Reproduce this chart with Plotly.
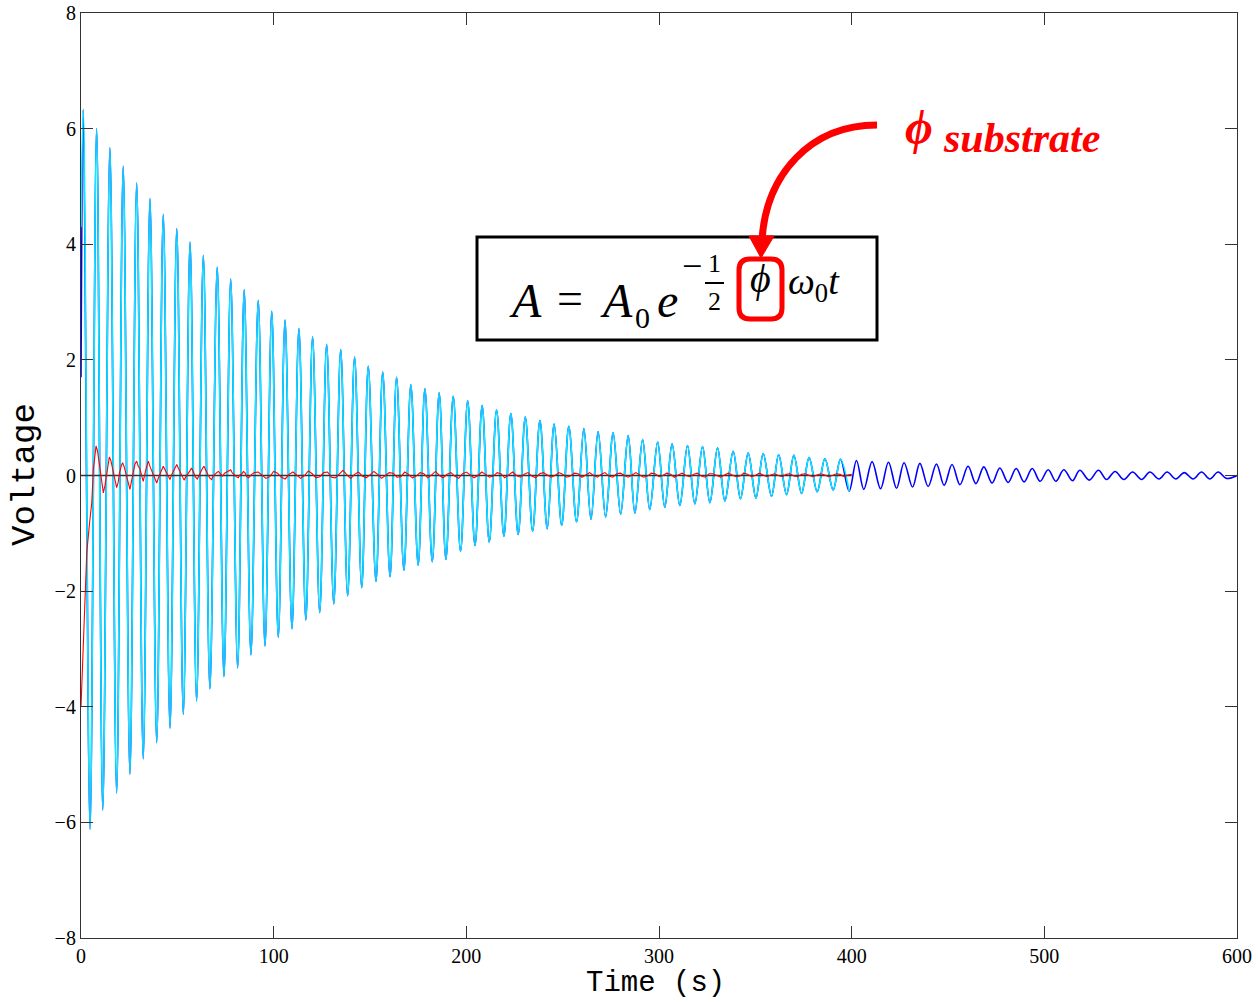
import plotly.graph_objects as go

# ---- data (extremes of the oscillation) ----
peak_t = [1.2, 8.1, 15.0, 21.9, 28.9, 35.8, 42.7, 49.7, 56.6, 63.5, 70.7, 77.7, 84.7, 92.0,
          99.0, 105.9, 113.1, 120.2, 127.5, 134.8, 142.0, 149.1, 156.6, 163.8, 171.2, 178.5, 185.9,
          193.2, 200.7, 208.2, 215.7, 223.1, 230.6, 238.2, 245.6, 253.2, 261.0, 268.4, 276.2,
          284.0, 291.5, 299.3, 306.8, 314.8, 322.6, 330.4, 338.5, 346.3, 354.1, 362.1, 370.0,
          377.9, 386.1, 394.2, 402.5, 410.6, 419.1, 427.2, 435.4, 444.0, 452.1, 460.4, 468.6,
          476.9, 485.4, 493.7, 502.0, 510.1, 518.4, 528.1, 536.7, 545.8, 554.8, 563.7, 572.6,
          581.6, 590.2]
peak_v = [6.33, 6.00, 5.67, 5.35, 5.06, 4.79, 4.52, 4.27, 4.04, 3.81, 3.60, 3.40, 3.21, 3.03,
          2.84, 2.69, 2.54, 2.40, 2.27, 2.18, 2.05, 1.89, 1.79, 1.70, 1.57, 1.50, 1.43,
          1.37, 1.29, 1.21, 1.13, 1.07, 1.01, 0.95, 0.89, 0.85, 0.81, 0.76, 0.74,
          0.69, 0.62, 0.58, 0.55, 0.52, 0.50, 0.48, 0.42, 0.39, 0.38, 0.36, 0.35,
          0.31, 0.29, 0.28, 0.26, 0.24, 0.23, 0.22, 0.21, 0.20, 0.19, 0.16, 0.15,
          0.13, 0.12, 0.12, 0.10, 0.10, 0.09, 0.09, 0.07, 0.06, 0.06, 0.06, 0.05,
          0.06, 0.06]
trough_t = [4.7, 11.3, 18.5, 25.4, 32.3, 39.3, 46.2, 53.1, 60.0, 66.9, 74.2, 81.3, 88.2,
            95.5, 102.4, 109.5, 116.7, 123.9, 131.2, 138.4, 145.7, 153.1, 160.4, 167.6, 175.0,
            182.3, 189.4, 197.0, 204.5, 211.9, 219.5, 226.9, 234.4, 242.0, 249.5, 257.2, 264.7,
            272.3, 280.1, 287.5, 295.2, 303.0, 310.8, 318.6, 326.4, 334.2, 342.3, 350.3, 358.4,
            366.2, 374.0, 382.1, 390.4, 398.7, 406.3, 415.0, 423.3, 431.6, 439.7, 448.0, 456.2,
            464.5, 472.9, 481.2, 489.5, 497.8, 506.0, 514.6, 523.3, 532.3, 541.3, 550.5, 559.5,
            568.3, 577.2, 585.9, 594.5]
trough_v = [-6.12, -5.79, -5.49, -5.17, -4.90, -4.62, -4.37, -4.13, -3.90, -3.69, -3.48, -3.33, -3.10,
            -2.95, -2.80, -2.65, -2.50, -2.37, -2.22, -2.08, -1.94, -1.83, -1.75, -1.64, -1.55,
            -1.49, -1.45, -1.31, -1.21, -1.15, -1.05, -1.02, -0.96, -0.92, -0.86, -0.80, -0.76,
            -0.72, -0.67, -0.65, -0.59, -0.55, -0.52, -0.49, -0.47, -0.44, -0.40, -0.39, -0.36,
            -0.33, -0.31, -0.28, -0.25, -0.27, -0.24, -0.23, -0.22, -0.20, -0.19, -0.17, -0.16,
            -0.14, -0.13, -0.12, -0.11, -0.10, -0.10, -0.09, -0.08, -0.07, -0.07, -0.07, -0.06,
            -0.06, -0.06, -0.06, -0.05]
blue_start = (0.0, 1.7)
blue_end = (600.0, 0.0)
cyan_start = (0.0, 4.3)
cyan_stop_t = 400.0

# red residual: early transient part
red_t_early = [0.0, 1.2, 3.0, 4.5, 5.6, 6.4, 7.2, 7.8, 8.6, 9.5, 10.5, 11.6, 12.4, 13.0, 14.0, 14.7,
               15.5, 16.5, 17.5, 18.5, 19.3, 20.0, 21.0, 21.6, 22.5, 23.5, 24.5, 25.4, 26.2, 27.0,
               28.0, 28.9, 29.7, 30.5, 31.5, 32.3, 33.5, 34.9, 36.0, 37.0, 38.2, 39.3, 40.2,
               41.0, 42.0, 42.7, 43.6, 44.5, 45.4, 46.2, 47.0, 48.0, 49.0, 49.7, 50.6, 51.5,
               52.5, 53.5, 54.5, 55.5, 56.5, 57.4, 58.5, 59.5, 60.4, 61.2, 62.0, 63.0, 63.8,
               64.8, 65.8, 66.8, 67.8, 68.6, 69.5, 70.4, 71.3, 72.5, 73.5, 74.5, 75.5, 76.6,
               77.7, 78.6, 79.5, 80.5, 81.6, 82.5, 83.5, 84.3, 85.1, 86.0, 87.0, 88.6, 90.0]
red_v_early = [-4.00, -2.95, -1.33, -0.80, -0.47, 0.10, 0.38, 0.51, 0.42, 0.20, -0.05, -0.30, -0.18,
               -0.05, 0.22, 0.32, 0.26, 0.10, -0.08, -0.21, -0.12, 0.05, 0.18, 0.22, 0.14, 0.00,
               -0.15, -0.24, -0.10, 0.05, 0.20, 0.25, 0.16, 0.12, 0.02, -0.10, 0.08, 0.25, 0.14,
               0.05, -0.06, -0.13, -0.04, 0.02, 0.12, 0.16, 0.10, 0.03, -0.02, -0.07, 0.01, 0.08,
               0.14, 0.19, 0.12, 0.05, -0.03, -0.08, -0.02, 0.02, 0.08, 0.13, 0.04, -0.03, -0.06,
               0.00, 0.04, 0.12, 0.16, 0.08, 0.02, -0.04, -0.07, -0.01, 0.03, 0.05, 0.07, 0.02,
               -0.01, 0.04, 0.06, 0.08, 0.10, 0.04, 0.02, -0.02, -0.04, 0.01, 0.03, 0.07, 0.05,
               -0.02, -0.04, 0.02, 0.05]
# red residual: noisy tail (sampled every 2 s from 92 s to 400 s)
red_t_tail = [92, 94, 96, 98, 100, 102, 104, 106, 108, 110, 112, 114, 116, 118, 120, 122, 124, 126,
              128, 130, 132, 134, 136, 138, 140, 142, 144, 146, 148, 150, 152, 154, 156, 158, 160,
              162, 164, 166, 168, 170, 172, 174, 176, 178, 180, 182, 184, 186, 188, 190, 192, 194,
              196, 198, 200, 202, 204, 206, 208, 210, 212, 214, 216, 218, 220, 222, 224, 226, 228,
              230, 232, 234, 236, 238, 240, 242, 244, 246, 248, 250, 252, 254, 256, 258, 260, 262,
              264, 266, 268, 270, 272, 274, 276, 278, 280, 282, 284, 286, 288, 290, 292, 294, 296,
              298, 300, 302, 304, 306, 308, 310, 312, 314, 316, 318, 320, 322, 324, 326, 328, 330,
              332, 334, 336, 338, 340, 342, 344, 346, 348, 350, 352, 354, 356, 358, 360, 362, 364,
              366, 368, 370, 372, 374, 376, 378, 380, 382, 384, 386, 388, 390, 392, 394, 396, 398,
              400]
red_v_tail = [0.06, 0.00, -0.05, -0.02, 0.07, 0.04, -0.03, -0.06, 0.02, 0.06, 0.01, -0.05, 0.00,
              0.08, 0.03, -0.04, -0.02, 0.05, 0.06, -0.03, -0.04, 0.03, 0.09, 0.01, -0.05, 0.02,
              0.06, -0.01, -0.04, 0.01, 0.07, 0.02, -0.05, 0.00, 0.05, 0.04, -0.03, -0.02, 0.06,
              0.02, -0.04, -0.01, 0.05, 0.03, -0.04, 0.01, 0.07, 0.00, -0.04, 0.02, 0.05, -0.01,
              -0.05, 0.03, 0.06, 0.01, -0.04, 0.00, 0.06, 0.02, -0.03, -0.01, 0.05, 0.03, -0.04,
              0.01, 0.06, 0.00, -0.03, 0.02, 0.05, -0.01, -0.04, 0.03, 0.05, 0.01, -0.03, 0.00,
              0.05, 0.02, -0.03, -0.01, 0.04, 0.03, -0.03, 0.01, 0.05, 0.00, -0.03, 0.02, 0.05,
              -0.01, -0.03, 0.03, 0.04, 0.00, -0.03, 0.01, 0.05, 0.01, -0.03, -0.01, 0.04, 0.03,
              -0.02, 0.00, 0.04, 0.02, -0.03, 0.01, 0.04, 0.00, -0.02, 0.02, 0.04, -0.01, -0.03,
              0.03, 0.03, 0.00, -0.03, 0.01, 0.04, 0.01, -0.02, -0.01, 0.04, 0.02, -0.02, 0.00,
              0.04, 0.01, -0.02, 0.01, 0.03, 0.00, -0.02, 0.02, 0.03, -0.01, -0.02, 0.02, 0.03,
              0.00, -0.02, 0.01, 0.03, 0.01, -0.02, 0.00, 0.03, 0.02, -0.02, 0.01, 0.02]

zero_t = [0, 400]
zero_v = [0, 0]

x_ticks = [0, 100, 200, 300, 400, 500, 600]
y_ticks = [-8, -6, -4, -2, 0, 2, 4, 6, 8]

# ---- merge extremes into ordered curves ----
ext = sorted(list(zip(peak_t, peak_v)) + list(zip(trough_t, trough_v)))
blue_x = [blue_start[0]] + [p[0] for p in ext] + [blue_end[0]]
blue_y = [blue_start[1]] + [p[1] for p in ext] + [blue_end[1]]
cyan_pts = [p for p in ext if p[0] <= cyan_stop_t]
cyan_x = [cyan_start[0]] + [p[0] for p in cyan_pts]
cyan_y = [cyan_start[1]] + [p[1] for p in cyan_pts]
red_t = red_t_early + red_t_tail
red_v = red_v_early + red_v_tail

fig = go.Figure()
fig.add_trace(go.Scatter(x=blue_x, y=blue_y, mode="lines",
                         line=dict(color="#0000ff", width=1.6, shape="spline", smoothing=1)))
fig.add_trace(go.Scatter(x=cyan_x, y=cyan_y, mode="lines",
                         line=dict(color="#00f0ff", width=1.6, shape="spline", smoothing=1)))
fig.add_trace(go.Scatter(x=zero_t, y=zero_v, mode="lines", line=dict(color="#333333", width=1.6)))
fig.add_trace(go.Scatter(x=red_t, y=red_v, mode="lines", line=dict(color="#ff0000", width=1.1)))

# pixel -> paper helpers (plot area 81..1237 x, 13..938 y)
L, R, T, B = 81, 1237, 13, 938
def px(x):
    return (x - L) / (R - L)
def py(y):
    return (B - y) / (B - T)

shapes = []
shapes.append(dict(type="rect", xref="paper", yref="paper", x0=px(477), x1=px(877),
                   y0=py(340), y1=py(237), line=dict(color="black", width=3),
                   fillcolor="white", layer="above"))
shapes.append(dict(type="line", xref="paper", yref="paper", x0=px(705), x1=px(724),
                   y0=py(283), y1=py(283), line=dict(color="black", width=2), layer="above"))
def rrect(x0, y0, x1, y1, r):
    pts = [
        f"M {px(x0 + r)},{py(y0)}",
        f"L {px(x1 - r)},{py(y0)}",
        f"Q {px(x1)},{py(y0)} {px(x1)},{py(y0 + r)}",
        f"L {px(x1)},{py(y1 - r)}",
        f"Q {px(x1)},{py(y1)} {px(x1 - r)},{py(y1)}",
        f"L {px(x0 + r)},{py(y1)}",
        f"Q {px(x0)},{py(y1)} {px(x0)},{py(y1 - r)}",
        f"L {px(x0)},{py(y0 + r)}",
        f"Q {px(x0)},{py(y0)} {px(x0 + r)},{py(y0)} Z",
    ]
    return " ".join(pts)
shapes.append(dict(type="path", xref="paper", yref="paper", path=rrect(739, 259, 782, 319, 11),
                   line=dict(color="#ff0000", width=5), layer="above"))
arrow_path = (f"M {px(877)},{py(125)} C {px(810)},{py(125)} {px(766)},{py(175)} {px(762)},{py(240)}")
shapes.append(dict(type="path", xref="paper", yref="paper", path=arrow_path,
                   line=dict(color="#ff0000", width=7), layer="above"))
head = (f"M {px(749)},{py(236)} L {px(774)},{py(236)} L {px(761)},{py(258)} Z")
shapes.append(dict(type="path", xref="paper", yref="paper", path=head,
                   line=dict(color="#ff0000", width=1), fillcolor="#ff0000", layer="above"))

serif = "Liberation Serif"
mono = "Liberation Mono"
def txt(x, y, text, size, color="black", anchor="center", family=serif, yanchor="middle"):
    return dict(x=px(x), y=py(y), xref="paper", yref="paper", xanchor=anchor, yanchor=yanchor,
                text=text, showarrow=False, font=dict(family=family, size=size, color=color))

ann = [
    txt(525, 300, "<i>A</i>", 48),
    txt(570, 299, "=", 46),
    txt(616, 300, "<i>A</i>", 48),
    txt(642, 318, "0", 30),
    txt(667, 300, "<i>e</i>", 48),
    txt(692, 266, "−", 36),
    txt(714, 263, "1", 26),
    txt(714, 301, "2", 26),
    txt(760, 279, "<i>ϕ</i>", 40),
    txt(786, 284, "<i>ω</i><sub>0</sub><i>t</i>", 38, anchor="left"),
    txt(903, 128, "<b><i>ϕ</i></b>", 48, color="#ff0000", anchor="left"),
    txt(941, 138, "<b><i>substrate</i></b>", 42, color="#ff0000", anchor="left"),
    txt(655, 1002, "Time (s)", 29, family=mono, yanchor="bottom"),
    dict(x=px(25), y=py(475), xref="paper", yref="paper", xanchor="center", yanchor="middle",
         text="Voltage", showarrow=False, textangle=-90,
         font=dict(family=mono, size=34, color="black")),
]

axis_common = dict(showgrid=False, zeroline=False, showline=True, linecolor="#333333", linewidth=1.2,
                   mirror="ticks", ticks="inside", ticklen=12, tickcolor="#333333", automargin=False,
                   tickfont=dict(family=serif, size=20, color="black"))

fig.update_layout(
    width=1258, height=1002,
    margin=dict(l=L, r=1258 - R, t=T, b=1002 - B, autoexpand=False),
    paper_bgcolor="white", plot_bgcolor="white",
    showlegend=False,
    shapes=shapes, annotations=ann,
    xaxis=dict(range=[0, 600], tickvals=x_ticks, **axis_common),
    yaxis=dict(range=[-8, 8], tickvals=y_ticks, **axis_common),
)

fig.write_html("out.html")
